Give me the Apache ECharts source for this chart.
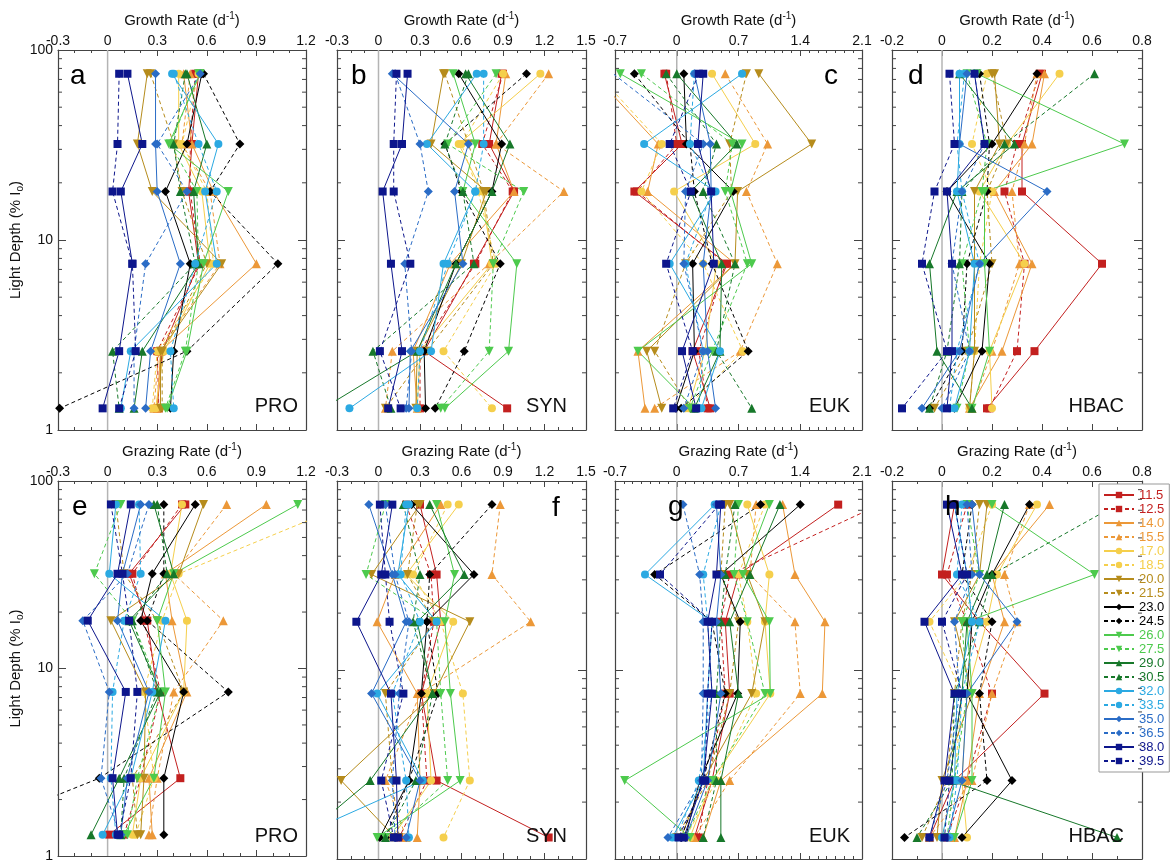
<!DOCTYPE html>
<html>
<head>
<meta charset="utf-8">
<script src="https://cdn.jsdelivr.net/npm/echarts@6/dist/echarts.min.js"></script>
<style>
html, body { margin: 0; padding: 0; background: #fff; }
#chart { width: 1174px; height: 863px; }
</style>
</head>
<body>
<div id="chart"></div>
<script>
// Sampling light depths (% of surface irradiance) for each profile station
const depths = [75, 32, 18, 7.5, 2.6, 1.3];

// Incubation temperatures (°C); one profile per temperature
const temperatures = ['11.5', '12.5', '14.0', '15.5', '17.0', '18.5', '20.0', '21.5', '23.0', '24.5',
  '26.0', '27.5', '29.0', '30.5', '32.0', '33.5', '35.0', '36.5', '38.0', '39.5'];

// Minor tick positions on the log depth axis
const depthMinorTicks = [2, 3, 4, 5, 6, 7, 8, 9, 20, 30, 40, 50, 60, 70, 80, 90];

// Growth rates (d-1); rows follow temperatures, columns follow depths
const proGrowth = [
  [0.55, 0.51, 0.49, 0.55, 0.33, 0.30],
  [0.53, 0.50, 0.50, 0.56, 0.30, 0.31],
  [0.46, 0.51, 0.64, 0.90, 0.32, 0.30],
  [0.50, 0.45, 0.62, 0.68, 0.31, 0.28],
  [0.43, 0.43, 0.57, 0.62, 0.34, 0.29],
  [0.55, 0.45, 0.60, 0.64, 0.30, 0.27],
  [0.24, 0.18, 0.27, 0.69, 0.32, 0.32],
  [0.26, 0.40, 0.45, 0.60, 0.33, 0.33],
  [0.57, 0.48, 0.35, 0.50, 0.40, 0.38],
  [0.58, 0.80, 0.62, 1.03, 0.48, -0.29],
  [0.56, 0.37, 0.73, 0.58, 0.48, 0.36],
  [0.55, 0.38, 0.54, 0.55, 0.47, 0.35],
  [0.48, 0.60, 0.52, 0.55, 0.21, 0.16],
  [0.47, 0.40, 0.44, 0.53, 0.03, 0.07],
  [0.39, 0.67, 0.59, 0.66, 0.14, 0.08],
  [0.40, 0.55, 0.66, 0.53, 0.38, 0.40],
  [0.29, 0.29, 0.30, 0.44, 0.26, 0.23],
  [0.56, 0.30, 0.48, 0.23, 0.16, 0.16],
  [0.12, 0.21, 0.08, 0.15, 0.07, -0.03],
  [0.07, 0.06, 0.03, 0.15, 0.17, 0.07]
];
const synGrowth = [
  [0.89, 0.80, 0.98, 0.69, 0.33, 0.93],
  [0.90, 0.75, 0.97, 0.70, 0.30, 0.30],
  [0.92, 0.85, 0.98, 0.52, 0.25, 0.28],
  [1.23, 0.85, 1.34, 0.80, 0.10, 0.05],
  [1.17, 0.58, 0.75, 0.82, 0.30, 0.28],
  [0.90, 0.60, 0.72, 0.85, 0.47, 0.82],
  [0.47, 0.38, 0.78, 0.60, 0.28, 0.27],
  [0.48, 0.65, 0.76, 0.83, 0.35, 0.05],
  [0.58, 0.89, 0.82, 0.56, 0.33, 0.34],
  [1.07, 0.48, 0.60, 0.88, 0.62, 0.41],
  [0.54, 0.70, 0.61, 1.00, 0.94, 0.48],
  [0.85, 0.50, 1.05, 0.83, 0.80, 0.45],
  [0.63, 0.95, 0.82, 0.56, 0.28, -0.40],
  [0.65, 0.48, 0.61, 0.69, -0.04, 0.09],
  [0.71, 0.35, 0.70, 0.47, 0.38, -0.21],
  [0.76, 0.76, 0.70, 0.50, 0.30, 0.28],
  [0.10, 0.65, 0.55, 0.61, 0.23, 0.22],
  [0.12, 0.30, 0.36, 0.19, 0.24, 0.20],
  [0.21, 0.17, 0.03, 0.09, 0.17, 0.07],
  [0.13, 0.11, 0.11, 0.23, 0.01, 0.16]
];
const eukGrowth = [
  [-0.14, 0.06, -0.48, 0.57, 0.18, 0.38],
  [-0.12, 0.00, -0.45, 0.55, 0.25, 0.35],
  [-0.95, -0.21, -0.33, 0.66, -0.44, -0.36],
  [0.55, 1.03, 0.79, 1.14, 0.72, -0.25],
  [0.40, 0.89, -0.03, 0.45, 0.32, 0.13],
  [-0.90, -0.17, -0.40, 0.30, 0.75, 0.10],
  [0.93, 1.53, 0.69, 0.66, -0.34, -0.17],
  [0.79, 0.60, 0.62, 0.10, -0.25, 0.15],
  [0.08, 0.11, 0.64, 0.18, 0.20, -0.01],
  [-0.48, 0.15, 0.20, 0.40, 0.81, 0.05],
  [-0.64, 0.74, 0.61, 0.85, -0.44, 0.20],
  [-0.40, 0.63, 0.55, 0.80, 0.40, 0.15],
  [0.00, 0.68, 0.16, 0.51, 0.49, 0.20],
  [-0.12, 0.45, 0.30, 0.66, 0.45, 0.85],
  [0.74, -0.37, 0.44, -0.08, 0.49, 0.28],
  [0.20, 0.15, 0.40, 0.10, 0.30, 0.25],
  [0.20, 0.38, 0.39, 0.30, 0.35, 0.44],
  [-0.72, 0.30, 0.10, 0.08, 0.30, 0.08],
  [0.30, 0.24, 0.39, 0.42, 0.06, 0.22],
  [0.25, -0.08, 0.16, -0.12, 0.18, -0.04]
];
const hbacGrowth = [
  [0.40, 0.32, 0.32, 0.64, 0.37, 0.18],
  [0.39, 0.30, 0.25, 0.33, 0.30, 0.19],
  [0.41, 0.36, 0.21, 0.36, 0.24, 0.11],
  [0.38, 0.33, 0.28, 0.31, 0.20, 0.12],
  [0.47, 0.26, 0.15, 0.33, 0.19, 0.20],
  [0.18, 0.12, 0.20, 0.15, 0.13, 0.11],
  [0.21, 0.23, 0.13, 0.13, 0.13, 0.11],
  [0.20, 0.26, 0.18, 0.20, 0.10, -0.03],
  [0.38, 0.20, 0.02, 0.19, 0.16, 0.05],
  [0.15, 0.19, 0.18, 0.10, 0.08, -0.05],
  [0.14, 0.73, 0.17, 0.17, 0.19, 0.12],
  [0.10, 0.18, 0.16, 0.08, 0.11, 0.06],
  [0.07, 0.29, 0.06, -0.05, -0.02, 0.12],
  [0.61, 0.25, 0.08, 0.07, 0.02, -0.05],
  [0.07, 0.07, 0.06, 0.13, 0.11, 0.05],
  [0.09, 0.06, 0.08, 0.15, 0.06, 0.03],
  [0.10, 0.07, 0.42, 0.15, 0.07, -0.08],
  [0.13, 0.17, 0.08, 0.04, 0.11, 0.00],
  [0.13, 0.17, 0.02, 0.04, 0.04, 0.02],
  [0.03, 0.05, -0.03, -0.08, 0.02, -0.16]
];

// Grazing rates (d-1); rows follow temperatures, columns follow depths
const proGrazing = [
  [0.47, 0.13, 0.24, 0.30, 0.44, 0.01],
  [0.45, 0.15, 0.22, 0.32, 0.20, 0.10],
  [0.96, 0.35, 0.39, 0.48, 0.25, 0.27],
  [0.72, 0.40, 0.70, 0.40, 0.30, 0.25],
  [0.45, 0.38, 0.48, 0.46, 0.20, 0.15],
  [1.45, 0.43, 0.33, 0.22, 0.28, 0.17],
  [0.58, 0.43, 0.02, 0.23, 0.22, 0.20],
  [0.05, 0.10, 0.30, 0.46, 0.15, 0.18],
  [0.53, 0.27, 0.20, 0.46, 0.34, 0.34],
  [0.34, 0.34, 0.24, 0.73, -0.05, -0.90],
  [1.15, 0.40, 0.30, 0.35, 0.28, 0.10],
  [0.08, -0.08, 0.15, 0.32, 0.18, 0.12],
  [0.28, 0.40, 0.13, 0.32, 0.07, -0.10],
  [0.30, 0.36, 0.15, 0.30, 0.10, 0.08],
  [0.05, 0.01, 0.35, 0.27, 0.14, -0.03],
  [0.19, 0.20, 0.10, 0.03, 0.02, 0.05],
  [0.20, 0.09, 0.06, 0.25, 0.12, 0.08],
  [0.25, 0.12, -0.15, 0.01, -0.04, 0.07],
  [0.14, 0.06, -0.12, 0.11, 0.03, 0.06],
  [0.02, 0.09, 0.13, 0.18, 0.14, 0.07]
];
const synGrazing = [
  [0.30, 0.42, 0.45, 0.31, 0.42, 1.23],
  [0.20, 0.38, 0.40, 0.31, 0.35, 0.15],
  [0.45, 0.12, -0.01, 0.28, 0.30, 0.28],
  [0.88, 0.82, 1.10, 0.30, 0.05, 0.20],
  [0.58, 0.20, 0.54, 0.35, 0.38, 0.10],
  [0.50, 0.25, 0.45, 0.61, 0.66, 0.47],
  [0.30, -0.05, 0.66, 0.40, -0.27, 0.12],
  [0.28, 0.21, 0.40, 0.05, 0.10, 0.15],
  [0.24, 0.69, 0.35, 0.31, 0.22, 0.01],
  [0.82, 0.37, 0.35, 0.43, 0.22, 0.05],
  [0.42, 0.55, 0.48, 0.52, 0.59, -0.01],
  [0.05, -0.09, 0.42, 0.45, 0.50, 0.05],
  [0.37, 0.62, 0.28, 0.39, -0.06, -0.55],
  [0.18, 0.30, 0.25, 0.39, 0.27, 0.05],
  [0.22, 0.14, 0.42, -0.01, 0.32, -0.60],
  [0.20, 0.16, 0.30, 0.10, 0.20, 0.22],
  [-0.07, 0.10, 0.20, -0.05, 0.30, 0.20],
  [0.05, 0.12, 0.22, 0.15, 0.10, 0.12],
  [0.10, 0.02, -0.16, 0.09, 0.13, 0.14],
  [0.01, 0.05, 0.08, 0.18, 0.02, 0.11]
];
const eukGrazing = [
  [1.83, 0.70, 0.55, 0.60, 0.40, 0.20],
  [2.30, 0.60, 0.50, 0.55, 0.35, 0.25],
  [1.20, 1.34, 1.68, 1.65, 0.50, 0.30],
  [0.90, 0.83, 1.34, 1.40, 0.60, 0.20],
  [0.80, 1.05, 1.00, 1.06, 0.40, 0.15],
  [1.00, 0.70, 0.80, 0.90, 0.45, 0.10],
  [0.60, 0.80, 1.00, 0.85, 0.30, 0.05],
  [0.55, 0.50, 0.70, 0.60, 0.35, 0.00],
  [1.40, 0.50, 0.72, 0.69, 0.26, 0.10],
  [0.95, -0.25, 0.40, 0.55, 0.30, 0.05],
  [1.05, 0.75, 1.05, 1.06, -0.59, 0.15],
  [0.70, 0.65, 0.80, 1.00, 0.40, 0.10],
  [1.17, 0.83, 0.60, 0.70, 0.50, 0.50],
  [0.66, 0.55, 0.50, 0.45, 0.45, 0.30],
  [0.43, -0.36, 0.40, 0.35, 0.30, -0.05],
  [0.50, 0.30, 0.35, 0.40, 0.25, 0.00],
  [0.45, 0.50, 0.45, 0.50, 0.35, 0.10],
  [0.07, 0.26, 0.30, 0.30, 0.28, -0.10],
  [0.50, 0.45, 0.35, 0.40, 0.30, 0.08],
  [0.48, -0.19, 0.40, 0.35, 0.32, 0.02]
];
const hbacGrazing = [
  [0.05, 0.00, 0.15, 0.41, 0.05, -0.05],
  [0.10, 0.02, 0.10, 0.20, 0.10, 0.02],
  [0.43, 0.20, 0.25, 0.15, 0.10, 0.05],
  [0.35, 0.25, 0.30, 0.20, 0.12, -0.05],
  [0.38, 0.22, 0.18, 0.10, 0.08, 0.10],
  [0.20, 0.10, -0.05, 0.08, 0.05, 0.00],
  [0.18, 0.15, 0.05, 0.12, 0.00, -0.02],
  [0.15, 0.12, 0.08, 0.05, 0.02, -0.08],
  [0.35, 0.20, 0.12, 0.10, 0.28, 0.08],
  [0.12, 0.08, 0.20, 0.15, 0.18, -0.15],
  [0.20, 0.61, 0.10, 0.12, 0.12, 0.05],
  [0.10, 0.15, 0.08, 0.10, 0.05, 0.02],
  [0.25, 0.18, 0.10, 0.08, 0.03, 0.70],
  [0.70, 0.20, 0.15, 0.05, 0.04, -0.10],
  [0.05, 0.10, 0.12, 0.06, 0.05, 0.00],
  [0.08, 0.06, 0.15, 0.08, 0.06, 0.03],
  [0.12, 0.15, 0.30, 0.10, 0.08, 0.02],
  [0.10, 0.12, 0.05, 0.07, 0.02, -0.05],
  [0.02, 0.08, -0.07, 0.05, 0.01, -0.05],
  [0.05, 0.10, 0.00, 0.08, 0.03, 0.01]
];

// Styling per temperature profile
const profileColors = ['#c3201f', '#c3201f', '#ec9838', '#ec9838', '#f5cf4c', '#f5cf4c',
  '#b68c1c', '#b68c1c', '#000000', '#000000', '#4dca4d', '#4dca4d', '#17782a', '#17782a',
  '#2ba9e2', '#2ba9e2', '#2a6cc6', '#2a6cc6', '#0d168c', '#0d168c'];
const profileSymbols = ['rect', 'rect', 'triangle', 'triangle', 'circle', 'circle',
  'triangle', 'triangle', 'diamond', 'diamond', 'triangle', 'triangle', 'triangle', 'triangle',
  'circle', 'circle', 'diamond', 'diamond', 'rect', 'rect'];
const pointsDown = [6, 7, 10, 11];

const FONT = '"Liberation Sans", Arial, Helvetica, sans-serif';
const AXIS_COLOR = '#444';

const panels = [
  { data: proGrowth, letter: 'a', group: 'PRO', min: -0.3, max: 1.2, interval: 0.3, minor: 3, rate: 'Growth' },
  { data: synGrowth, letter: 'b', group: 'SYN', min: -0.3, max: 1.5, interval: 0.3, minor: 3, rate: 'Growth' },
  { data: eukGrowth, letter: 'c', group: 'EUK', min: -0.7, max: 2.1, interval: 0.7, minor: 7, rate: 'Growth' },
  { data: hbacGrowth, letter: 'd', group: 'HBAC', min: -0.2, max: 0.8, interval: 0.2, minor: 2, rate: 'Growth' },
  { data: proGrazing, letter: 'e', group: 'PRO', min: -0.3, max: 1.2, interval: 0.3, minor: 3, rate: 'Grazing' },
  { data: synGrazing, letter: 'f', group: 'SYN', min: -0.3, max: 1.5, interval: 0.3, minor: 3, rate: 'Grazing' },
  { data: eukGrazing, letter: 'g', group: 'EUK', min: -0.7, max: 2.1, interval: 0.7, minor: 7, rate: 'Grazing' },
  { data: hbacGrazing, letter: 'h', group: 'HBAC', min: -0.2, max: 0.8, interval: 0.2, minor: 2, rate: 'Grazing' }
];

// Plot boxes [left, top, width, height]
const boxes = [
  [58, 50, 248, 380], [337, 50, 249, 380], [615, 50, 247, 380], [892, 50, 250, 380],
  [58, 481, 248, 378], [337, 481, 249, 378], [615, 481, 247, 378], [892, 481, 250, 378]
];
// Panel letter placement [x, y, align] and group label placement [rightX, y]
const letterPos = [
  [70, 76, 'left'], [351, 76, 'left'], [838, 76, 'right'], [908, 76, 'left'],
  [72, 507, 'left'], [552, 508, 'left'], [668, 507, 'left'], [945, 507, 'left']
];
const groupPos = [[298, 406], [567, 406], [850, 406], [1124, 406], [298, 836], [567, 836], [850, 836], [1124, 836]];

const grid = [], xAxis = [], yAxis = [], series = [], graphic = [];

panels.forEach((p, i) => {
  const [l, t, w, h] = boxes[i];
  grid.push({ left: l, top: t, width: w, height: h });

  const axisLine = { show: true, onZero: false, lineStyle: { color: AXIS_COLOR, width: 1.2 } };
  const xTick = { show: true, inside: true, length: 6, lineStyle: { color: AXIS_COLOR, width: 1 } };
  const xMinor = { show: true, splitNumber: p.minor, length: 3, lineStyle: { color: AXIS_COLOR, width: 1 } };
  const yTick = { show: true, inside: true, length: 8, lineStyle: { color: AXIS_COLOR, width: 1 } };
  const leftCol = i % 4 === 0;

  xAxis.push({
    gridIndex: i, type: 'value', position: 'top', min: p.min, max: p.max, interval: p.interval,
    axisLine, axisTick: xTick, minorTick: xMinor,
    splitLine: { show: false }, minorSplitLine: { show: false },
    axisLabel: { show: true, margin: 2, fontSize: 14, color: '#111', fontFamily: FONT },
    name: p.rate + ' Rate (d{sup|-1})', nameLocation: 'middle', nameGap: 19,
    nameTextStyle: {
      fontSize: 15, color: '#111', fontFamily: FONT, lineHeight: 20,
      rich: { sup: { fontSize: 10, lineHeight: 11, verticalAlign: 'top', color: '#111', fontFamily: FONT } }
    }
  });
  xAxis.push({
    gridIndex: i, type: 'value', position: 'bottom', min: p.min, max: p.max, interval: p.interval,
    axisLine, axisTick: xTick, minorTick: xMinor,
    splitLine: { show: false }, minorSplitLine: { show: false },
    axisLabel: { show: false }
  });
  yAxis.push({
    gridIndex: i, type: 'log', logBase: 10, min: 1, max: 100, position: 'left',
    axisLine, axisTick: yTick, splitLine: { show: false },
    axisLabel: { show: leftCol, margin: 5, fontSize: 14, color: '#111', fontFamily: FONT },
    name: leftCol ? 'Light Depth (% I{sub|o})' : '', nameLocation: 'middle', nameGap: 28, nameRotate: 90,
    nameTextStyle: {
      fontSize: 15, color: '#111', fontFamily: FONT, lineHeight: 20,
      rich: { sub: { fontSize: 10, lineHeight: 11, verticalAlign: 'bottom', color: '#111', fontFamily: FONT } }
    }
  });
  yAxis.push({
    gridIndex: i, type: 'log', logBase: 10, min: 1, max: 100, position: 'right',
    axisLine, axisTick: yTick, splitLine: { show: false }, axisLabel: { show: false }
  });

  const xi = 2 * i, yi = 2 * i;

  // zero reference line
  series.push({
    type: 'line', xAxisIndex: xi, yAxisIndex: yi, data: [[0, 1], [0, 100]],
    symbol: 'none', silent: true, z: 1, animation: false,
    lineStyle: { color: '#b4b4b4', width: 1.5 }
  });

  // minor ticks of the log depth axis, on both sides of the box
  series.push({
    type: 'custom', xAxisIndex: xi, yAxisIndex: yi, silent: true, z: 6, clip: false, animation: false,
    data: depthMinorTicks.map(v => [p.min, v]),
    renderItem: (params, api) => {
      const v = api.value(1);
      const a = api.coord([p.min, v]);
      const b = api.coord([p.max, v]);
      return {
        type: 'group', children: [
          { type: 'line', shape: { x1: a[0], y1: a[1], x2: a[0] + 4, y2: a[1] }, style: { stroke: AXIS_COLOR, lineWidth: 1 } },
          { type: 'line', shape: { x1: b[0] - 4, y1: b[1], x2: b[0], y2: b[1] }, style: { stroke: AXIS_COLOR, lineWidth: 1 } }
        ]
      };
    }
  });

  temperatures.forEach((name, s) => {
    const down = pointsDown.indexOf(s) >= 0;
    series.push({
      type: 'line', name, xAxisIndex: xi, yAxisIndex: yi,
      data: depths.map((d, k) => [p.data[s][k], d]),
      symbol: profileSymbols[s], symbolRotate: down ? 180 : 0,
      symbolSize: profileSymbols[s] === 'rect' ? 8 : (profileSymbols[s] === 'circle' ? 8 : 9),
      showAllSymbol: true, clip: true, animation: false, z: 2,
      lineStyle: { color: profileColors[s], width: 1, type: s % 2 ? [4, 3] : 'solid' },
      itemStyle: { color: profileColors[s] },
      emphasis: { disabled: true }
    });
  });

  const lp = letterPos[i];
  graphic.push({
    type: 'text', x: lp[0], y: lp[1], z: 10,
    style: { text: p.letter, font: '28px ' + FONT, fill: '#000', align: lp[2], verticalAlign: 'middle' }
  });
  const gp = groupPos[i];
  graphic.push({
    type: 'text', x: gp[0], y: gp[1], z: 10,
    style: { text: p.group, font: '20px ' + FONT, fill: '#111', align: 'right', verticalAlign: 'middle' }
  });
});

const chart = echarts.init(document.getElementById('chart'), null, { renderer: 'canvas' });
chart.setOption({
  animation: false,
  backgroundColor: '#fff',
  grid, xAxis, yAxis, series, graphic,
  legend: {
    orient: 'vertical', left: 1099, top: 484,
    itemWidth: 30, itemHeight: 8, itemGap: 0,
    padding: [4, 5, 4, 4],
    backgroundColor: '#fff', borderColor: '#999', borderWidth: 1,
    selectedMode: false,
    textStyle: { fontSize: 13, fontFamily: FONT, lineHeight: 14 },
    data: temperatures.map((t, i) => ({ name: t, textStyle: { color: profileColors[i] } }))
  }
});
</script>
</body>
</html>
